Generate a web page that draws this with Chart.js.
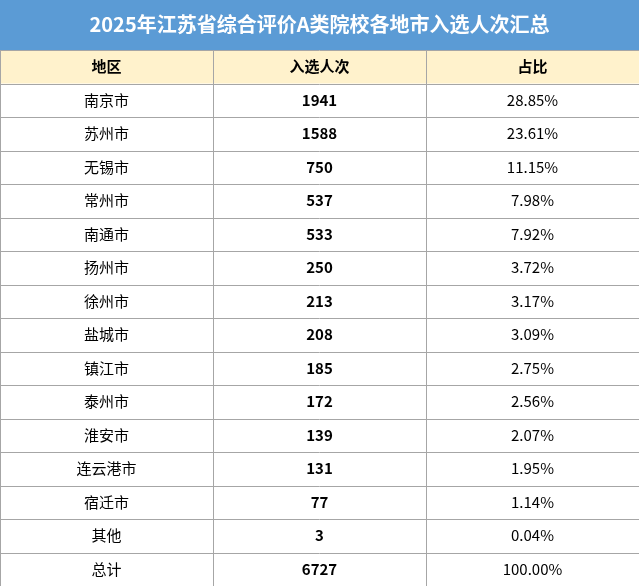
<!DOCTYPE html>
<html lang="zh">
<head>
<meta charset="UTF-8">
<title>2025年江苏省综合评价A类院校各地市入选人次汇总</title>
<script src="https://cdn.jsdelivr.net/npm/chart.js"></script>
<style>
  body { margin: 0; background: #fff; }
  #wrap { position: relative; width: 639px; height: 586px; }
</style>
</head>
<body>
<div id="wrap"><canvas id="tbl"></canvas></div>
<script>
// table data
const titleText = '2025年江苏省综合评价A类院校各地市入选人次汇总';
const headers = ['地区', '入选人次', '占比'];
const regions = ['南京市', '苏州市', '无锡市', '常州市', '南通市', '扬州市', '徐州市', '盐城市', '镇江市', '泰州市', '淮安市', '连云港市', '宿迁市', '其他', '总计'];
const counts = [1941, 1588, 750, 537, 533, 250, 213, 208, 185, 172, 139, 131, 77, 3, 6727];
const shares = ['28.85%', '23.61%', '11.15%', '7.98%', '7.92%', '3.72%', '3.17%', '3.09%', '2.75%', '2.56%', '2.07%', '1.95%', '1.14%', '0.04%', '100.00%'];

const font = '"Noto Sans CJK SC", "Noto Sans", sans-serif';
const rowLabels = ['header'].concat(regions);

// draws the cells at the positions of the category scales
const tablePlugin = {
  id: 'table',
  beforeDraw(chart) {
    const c = chart.ctx, a = chart.chartArea;
    const xs = chart.scales.x, ys = chart.scales.y;
    const rowH = ys.getPixelForValue(1) - ys.getPixelForValue(0);
    const colW = xs.getPixelForValue(1) - xs.getPixelForValue(0);
    c.save();
    c.fillStyle = '#5b9bd5';
    c.fillRect(0, 0, chart.width, a.top);
    c.fillStyle = '#fff2cc';
    c.fillRect(a.left, a.top, a.right - a.left, rowH);
    c.strokeStyle = '#a6a6a6';
    c.lineWidth = 1;
    c.beginPath();
    for (let i = 0; i <= rowLabels.length; i++) {
      const y = Math.round(ys.getPixelForValue(i) - rowH / 2) + 0.5;
      c.moveTo(a.left, y); c.lineTo(a.right, y);
    }
    for (let j = 0; j <= headers.length; j++) {
      const x = Math.round(xs.getPixelForValue(j) - colW / 2) + 0.5;
      c.moveTo(x, a.top); c.lineTo(x, a.bottom);
    }
    c.stroke();
    c.textAlign = 'center';
    c.textBaseline = 'middle';
    c.fillStyle = '#000';
    c.font = 'bold 15px ' + font;
    headers.forEach((h, j) => c.fillText(h, xs.getPixelForValue(j), ys.getPixelForValue(0)));
    regions.forEach((r, i) => {
      const y = ys.getPixelForValue(i + 1);
      c.font = '15px ' + font;
      c.fillText(r, xs.getPixelForValue(0), y);
      c.font = 'bold 15px ' + font;
      c.fillText(String(counts[i]), xs.getPixelForValue(1), y);
      c.font = '15px ' + font;
      c.fillText(shares[i], xs.getPixelForValue(2), y);
    });
    c.restore();
  }
};

new Chart(document.getElementById('tbl'), {
  type: 'bar',
  data: { labels: headers, datasets: [{ data: [], yAxisID: 'y' }] },
  options: {
    responsive: true,
    maintainAspectRatio: false,
    animation: false,
    layout: { padding: 0 },
    plugins: {
      legend: { display: false },
      tooltip: { enabled: false },
      title: {
        display: true,
        text: titleText,
        color: '#ffffff',
        font: { family: font, size: 20, weight: 'bold' },
        padding: { top: 12, bottom: 14 }
      }
    },
    scales: {
      x: { type: 'category', labels: headers, display: false, offset: true },
      y: { type: 'category', labels: rowLabels, display: false, offset: true }
    }
  },
  plugins: [tablePlugin]
});
</script>
</body>
</html>
